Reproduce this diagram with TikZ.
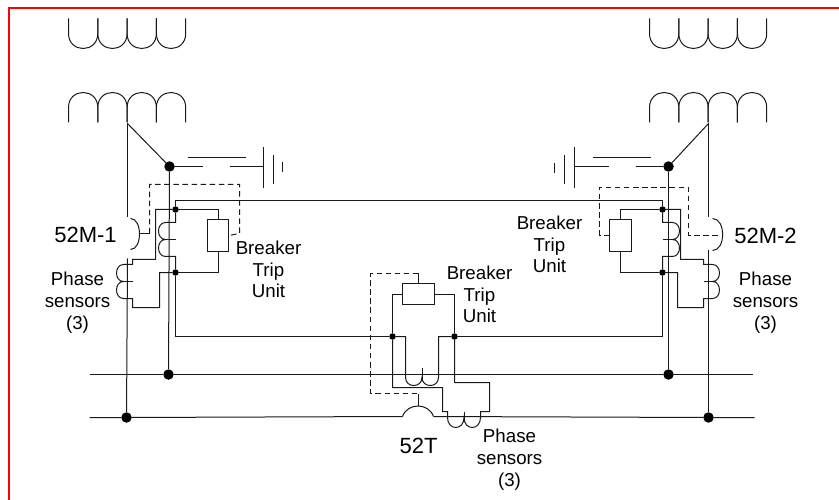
\documentclass[tikz,border=0pt]{standalone}
\usepackage{fontspec}
\setmainfont{Liberation Sans}
\tikzset{
  wire/.style={draw=black!90,line width=1pt},
  ctrl/.style={draw=black!90,line width=1pt,dash pattern=on 5.5pt off 3.6pt},
  bigdot/.style={circle,fill=black,inner sep=0pt,minimum size=10.5pt},
  smalldot/.style={circle,fill=black,inner sep=0pt,minimum size=6.5pt},
  unitbox/.style={draw=black!90,line width=1pt,inner sep=0pt},
  name52/.style={inner sep=0pt,align=center,font=\fontsize{22}{24}\selectfont},
  lab/.style={inner sep=0pt,align=center,font=\fontsize{18.7}{21.7}\selectfont},
}
\begin{document}
\begin{tikzpicture}[x=1pt,y=-1pt]
\useasboundingbox (0,0) rectangle (839,500);
% frame
\coordinate (fa) at (839,8); \coordinate (fb) at (8.5,8); \coordinate (fc) at (8.5,500);
\draw[red,line width=2pt] (fa) -- (fb) -- (fc);

\begin{scope}[shift={(0.5,0.5)}]
% dots
\node[bigdot] (nL) at (169,166) {};
\node[bigdot] (nR) at (668,166) {};
\node[bigdot] (busLa) at (168,374) {};
\node[bigdot] (busRa) at (668,374) {};
\node[bigdot] (busLb) at (126,417) {};
\node[bigdot] (busRb) at (708,417) {};
\node[smalldot] (jLt) at (175,209) {};
\node[smalldot] (jLb) at (175,272) {};
\node[smalldot] (jRt) at (662,209) {};
\node[smalldot] (jRb) at (662,272) {};
\node[smalldot] (jCl) at (392,336) {};
\node[smalldot] (jCr) at (454,336) {};

% trip-unit boxes
\node[unitbox,minimum width=21pt,minimum height=32pt] (boxL) at (217.5,235) {};
\node[unitbox,minimum width=22pt,minimum height=32pt] (boxR) at (620,235) {};
\node[unitbox,minimum width=32pt,minimum height=21pt] (boxC) at (418,293.5) {};

% transformers
\foreach \xo in {68,649}{
  \foreach \i in {0,1,2,3}{
    \draw[wire] ({\xo+29.3*\i},18) -- ({\xo+29.3*\i},33)
      .. controls +(0,20) and +(0,20) .. ({\xo+29.3*(\i+1)},33) -- ({\xo+29.3*(\i+1)},18);
    \draw[wire] ({\xo+29.3*\i},122) -- ({\xo+29.3*\i},107)
      .. controls +(0,-20) and +(0,-20) .. ({\xo+29.3*(\i+1)},107) -- ({\xo+29.3*(\i+1)},122);
  }
}
\coordinate (tL) at (127,123);
\coordinate (tR) at (708,123);
\draw[wire] (tL) -- (nL);
\draw[wire] (tR) -- (nR);

% feeder verticals with breaker gaps
\coordinate (gLa) at (127,217); \coordinate (gLb) at (127,258);
\coordinate (gRa) at (708,217); \coordinate (gRb) at (708,250);
\draw[wire] (tL) -- (gLa);
\draw[wire] (gLb) -- (busLb);
\draw[wire] (tR) -- (gRa);
\draw[wire] (gRb) -- (busRb);
\draw[wire] (nL) -- (busLa);
\draw[wire] (nR) -- (busRa);

% buses
\coordinate (ba1) at (89,374); \coordinate (ba2) at (752,374);
\coordinate (bb1) at (89,417); \coordinate (bb2) at (754,417);
\coordinate (bt1) at (402,416); \coordinate (bt2) at (433,416);
\draw[wire] (ba1) -- (busLa) -- (busRa) -- (ba2);
\draw[wire] (bb1) -- (busLb) -- (bt1);
\draw[wire] (bt2) -- (busRb) -- (bb2);

% ground switches left
\draw[wire] (nL) -- (202,166);
\draw[wire] (187,157) -- (245,157);
\draw[wire] (229,166) -- (263,166);
\draw[wire] (263,147) -- (263,188);
\draw[wire] (273,155) -- (273,184);
\draw[wire] (282,162) -- (282,172);
% ground switches right
\draw[wire] (nR) -- (635,166);
\draw[wire] (592,157) -- (650,157);
\draw[wire] (608,166) -- (574,166);
\draw[wire] (574,147) -- (574,188);
\draw[wire] (564,155) -- (564,184);
\draw[wire] (554,163) -- (554,173);

% tie lines
\coordinate (tieL) at (175,200); \coordinate (tieR) at (662,200);
\draw[wire] (jLt) -- (tieL) -- (tieR) -- (jRt);
\draw[wire] (jLb) |- (jCl);
\draw[wire] (jRb) |- (jCr);

% left main breaker wiring
\draw[wire] (boxL.north) |- (jLt);
\draw[wire] (jLt) -- (155,209) -- (155,259) -- (132,259) -- (132,264) -- (123,264)
   .. controls +(-9.3,0) and +(-9.3,0) .. (123,281)
   .. controls +(-9.3,0) and +(-9.3,0) .. (123,298) -- (132,298) -- (132,307) -- (159,307) -- (159,272) -- (jLb);
\draw[wire] (123,281) -- (132,281);
\draw[wire] (boxL.south) |- (jLb);
\draw[wire] (jLt) -- (175,222) -- (165,222)
   .. controls +(-9.3,0) and +(-9.3,0) .. (165,239)
   .. controls +(-9.3,0) and +(-9.3,0) .. (165,256) -- (175,256) -- (jLb);
\draw[wire] (165,239) -- (175,239);

% right main breaker wiring
\draw[wire] (boxR.north) |- (jRt);
\draw[wire] (jRt) -- (680,209) -- (680,259) -- (703,259) -- (703,264) -- (712,264)
   .. controls +(9.3,0) and +(9.3,0) .. (712,281)
   .. controls +(9.3,0) and +(9.3,0) .. (712,298) -- (703,298) -- (703,307) -- (677,307) -- (677,272) -- (jRb);
\draw[wire] (712,281) -- (703,281);
\draw[wire] (boxR.south) |- (jRb);
\draw[wire] (jRt) -- (662,222) -- (672,222)
   .. controls +(9.3,0) and +(9.3,0) .. (672,239)
   .. controls +(9.3,0) and +(9.3,0) .. (672,256) -- (662,256) -- (jRb);
\draw[wire] (672,239) -- (662,239);

% centre wiring
\draw[wire] (boxC.west) -| (jCl);
\draw[wire] (boxC.east) -| (jCr);
\draw[wire] (jCl) -- (405,336) -- (405,377)
   .. controls +(0,10.7) and +(0,10.7) .. (421.5,377)
   .. controls +(0,10.7) and +(0,10.7) .. (438,377) -- (438,336) -- (jCr);
\draw[wire] (421.5,367) -- (421.5,378);
\draw[wire] (jCl) -- (392,387) -- (442,387) -- (442,411) -- (447,411) -- (447,417)
   .. controls +(0,13.3) and +(0,13.3) .. (463.5,417)
   .. controls +(0,13.3) and +(0,13.3) .. (480,417) -- (480,411) -- (489,411) -- (489,382) -- (454,382) -- (jCr);
\draw[wire] (463.5,411) -- (463.5,419);

% breaker arcs
\draw[wire] (130,218) .. controls +(12,0) and +(12,0) .. (130,249);
\draw[wire] (712,218) .. controls +(13.5,0) and +(13.5,0) .. (712,250);
\draw[wire] (bt1) ..controls +(5,-14) and +(-5,-14) .. (bt2);
\coordinate (aL) at (139,233); \coordinate (aR) at (722,235); \coordinate (aC) at (417.5,405);

% trip control (dashed)
\draw[wire] (aL) -- (149,233);
\draw[ctrl] (149,233) -- (149,184) -- (239,184) -- (239,233) -- (boxL.east);
\draw[ctrl] (boxR.west) -- (599,235) -- (599,187) -- (688,187) -- (688,235) -- (aR);
\draw[wire] (boxC.north) -- (418,273);
\draw[ctrl] (418,273) -- (370,273) -- (370,393) -- (417.5,393);
\draw[wire] (417.5,393) -- (aC);

% labels
\node[name52] (t52m1) at (85,234) {52M-1};
\node[name52] (t52m2) at (765,235) {52M-2};
\node[name52] (t52t) at (418,445) {52T};
\node[lab] (psL) at (77,302) {Phase\\sensors\\(3)};
\node[lab] (psR) at (765,302) {Phase\\sensors\\(3)};
\node[lab] (psC) at (509,459) {Phase\\sensors\\(3)};
\node[lab] (btL) at (268,269) {Breaker\\Trip\\Unit};
\node[lab] (btR) at (549,244) {Breaker\\Trip\\Unit};
\node[lab] (btC) at (479,294) {Breaker\\Trip\\Unit};
\end{scope}
\end{tikzpicture}
\end{document}
